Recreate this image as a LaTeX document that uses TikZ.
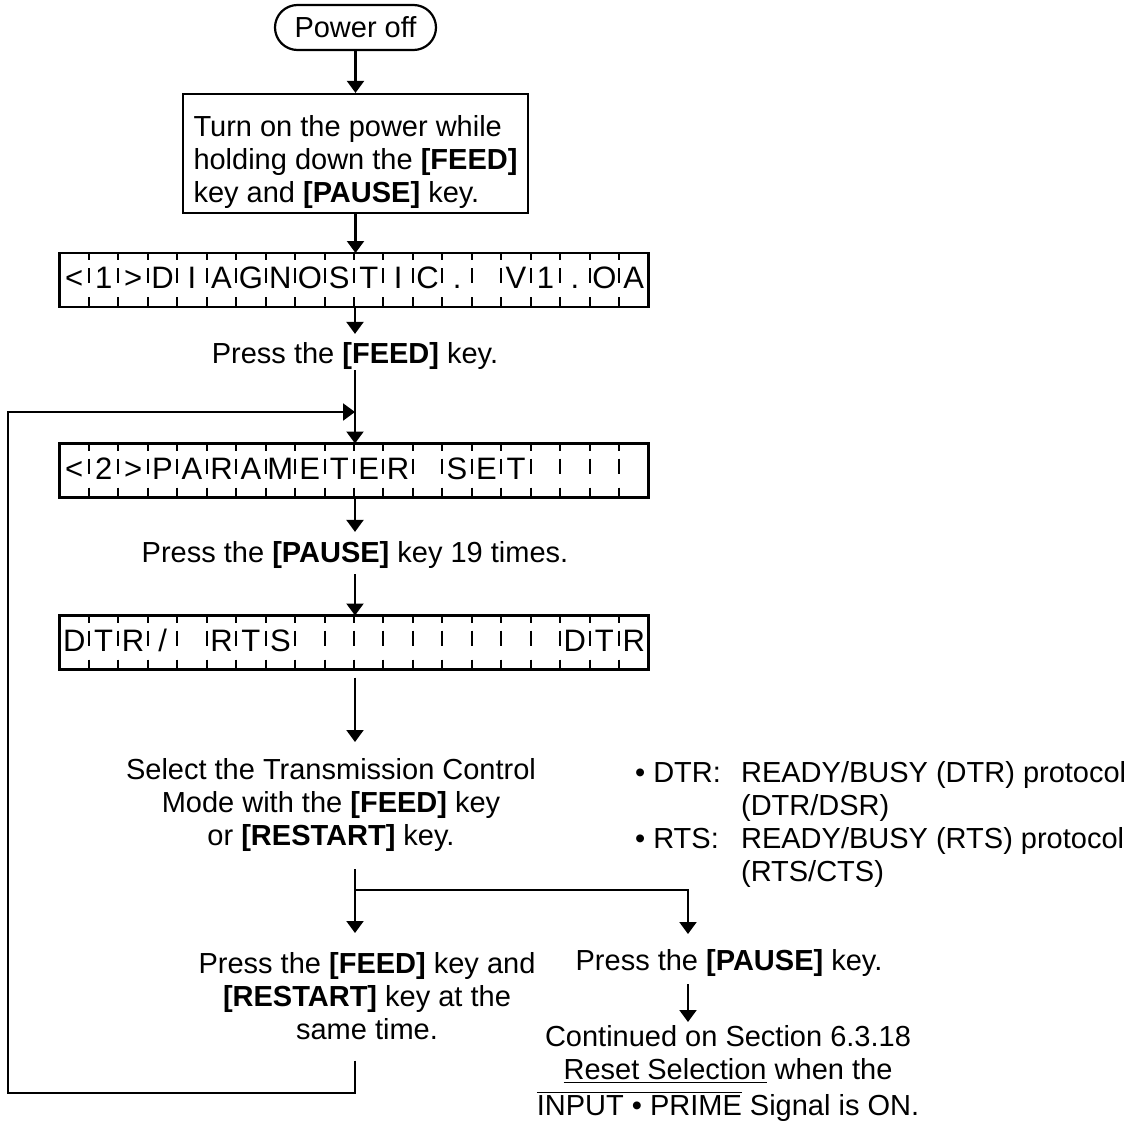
\documentclass[tikz,border=0pt]{standalone}
\usepackage{fontspec}
\setmainfont{Liberation Sans}
\usetikzlibrary{arrows.meta,shapes.misc}

\begin{document}
\begin{tikzpicture}[
  x=0.5pt,y=-0.5pt,
  font=\fontsize{14.5}{16.5}\selectfont,
  line width=1.1pt,
  term/.style={rounded rectangle,draw,minimum width=82.5pt,minimum height=22.5pt,inner sep=1pt},
  stepbox/.style={draw,minimum width=172.5pt,minimum height=59.5pt,align=left,inner sep=2pt},
  lcd/.style={draw,line width=1.3pt,minimum width=294.5pt,minimum height=27pt,inner sep=0pt,outer sep=0pt},
  cellsep/.style={line width=1pt,dash pattern=on 3.5pt off 4pt on 7.5pt off 7pt on 5pt off 5pt},
  ch/.style={anchor=base,inner sep=0pt},
  lcdch/.style={ch,font=\fontsize{15.5}{16.5}\selectfont},
  txt/.style={inner sep=0pt,align=center},
  arr/.style={-{Triangle[length=6pt,width=8.5pt]}}
]
  \useasboundingbox (0,0) rectangle (1148,1124);

  \node[term] (off) at (355.5,27.5) {Power off};
  \node[stepbox] (turn) at (355.5,153.5) {\rule{0pt}{19.5pt}Turn on the power while\\ holding down the \textbf{[FEED]}\\ key and \textbf{[PAUSE]} key.};

  % LCD messages
  \node[lcd] (diag) at (354,280) {};
  \node[lcd] (param) at (354,470.5) {};
  \node[lcd] (dtr) at (354,642.5) {};
  \foreach \n in {diag,param,dtr}
    \foreach \i in {1,...,19}
      \draw[cellsep] ([xshift=\i*14.725pt]\n.north west) -- ([xshift=\i*14.725pt]\n.south west);
  \foreach \i/\c in {1/<,2/1,3/>,4/D,5/I,6/A,7/G,8/N,9/O,10/S,11/T,12/I,13/C,14/.,16/V,17/1,18/.,19/O,20/A}
    \node[lcdch] (d\i) at ({59.5+(\i-0.5)*29.45},288.5) {\c};
  \foreach \i/\c in {1/<,2/2,3/>,4/P,5/A,6/R,7/A,8/M,9/E,10/T,11/E,12/R,14/S,15/E,16/T}
    \node[lcdch] (p\i) at ({59.5+(\i-0.5)*29.45},479) {\c};
  \foreach \i/\c in {1/D,2/T,3/R,4/{/},6/R,7/T,8/S,18/D,19/T,20/R}
    \node[lcdch] (t\i) at ({59.5+(\i-0.5)*29.45},651) {\c};

  \node[ch] (feed) at (355,363) {Press the \textbf{[FEED]} key.};
  \node[ch] (pause19) at (355,562) {Press the \textbf{[PAUSE]} key 19 times.};
  \node[txt,anchor=north] (select) at (331,757) {Select the Transmission Control\\ Mode with the \textbf{[FEED]} key\\ or \textbf{[RESTART]} key.};
  \node[txt,anchor=north west,align=left] (modes) at (634,760)
    {\makebox[53pt][l]{\textbullet\ DTR:}READY/BUSY (DTR) protocol\\
     \hspace*{53pt}(DTR/DSR)\\
     \makebox[53pt][l]{\textbullet\ RTS:}READY/BUSY (RTS) protocol\\
     \hspace*{53pt}(RTS/CTS)};
  \node[txt,anchor=north] (both) at (367,951) {Press the \textbf{[FEED]} key and\\ \textbf{[RESTART]} key at the\\ same time.};
  \node[ch] (pausekey) at (729,970) {Press the \textbf{[PAUSE]} key.};
  \node[txt,anchor=north] (cont) at (728,1024) {Continued on Section 6.3.18\\ \underline{Reset Selection} when the\\[1.5pt] $\overline{\mbox{INPUT • PRIME}}$ Signal is ON.};

  \coordinate (split) at (355,890);
  \coordinate (rb) at (688,934);
  \coordinate (back) at (355,412);
  \coordinate (lcorner) at (8,1093);

  \draw[arr] (off.south) -- (turn.north);
  \draw[arr] (turn.south) -- (turn.south |- diag.north);
  \draw[arr,shorten >=3.5pt] (feed.north |- diag.south) -- (feed.north);
  \draw[arr] (feed.south) -- (feed.south |- param.north);
  \draw[arr,shorten >=4pt] (pause19.north |- param.south) -- (pause19.north);
  \draw[arr,shorten <=2.5pt] (pause19.south) -- (pause19.south |- dtr.north);
  \draw[arr,shorten <=4pt,shorten >=7.5pt] (split |- dtr.south) -- (split |- select.north);
  \draw[shorten <=8.5pt] (split |- select.south) -- (split);
  \draw[arr,shorten >=9pt] (split) -- (split |- both.north);
  \draw[arr] (split) -| (rb);
  \draw[arr,shorten <=3.5pt,shorten >=1pt] (rb |- pausekey.south) -- (rb |- cont.north);
  % back to the parameter menu
  \draw[arr] (split |- both.south) ++(0,20) |- (lcorner) |- (back);
\end{tikzpicture}
\end{document}
